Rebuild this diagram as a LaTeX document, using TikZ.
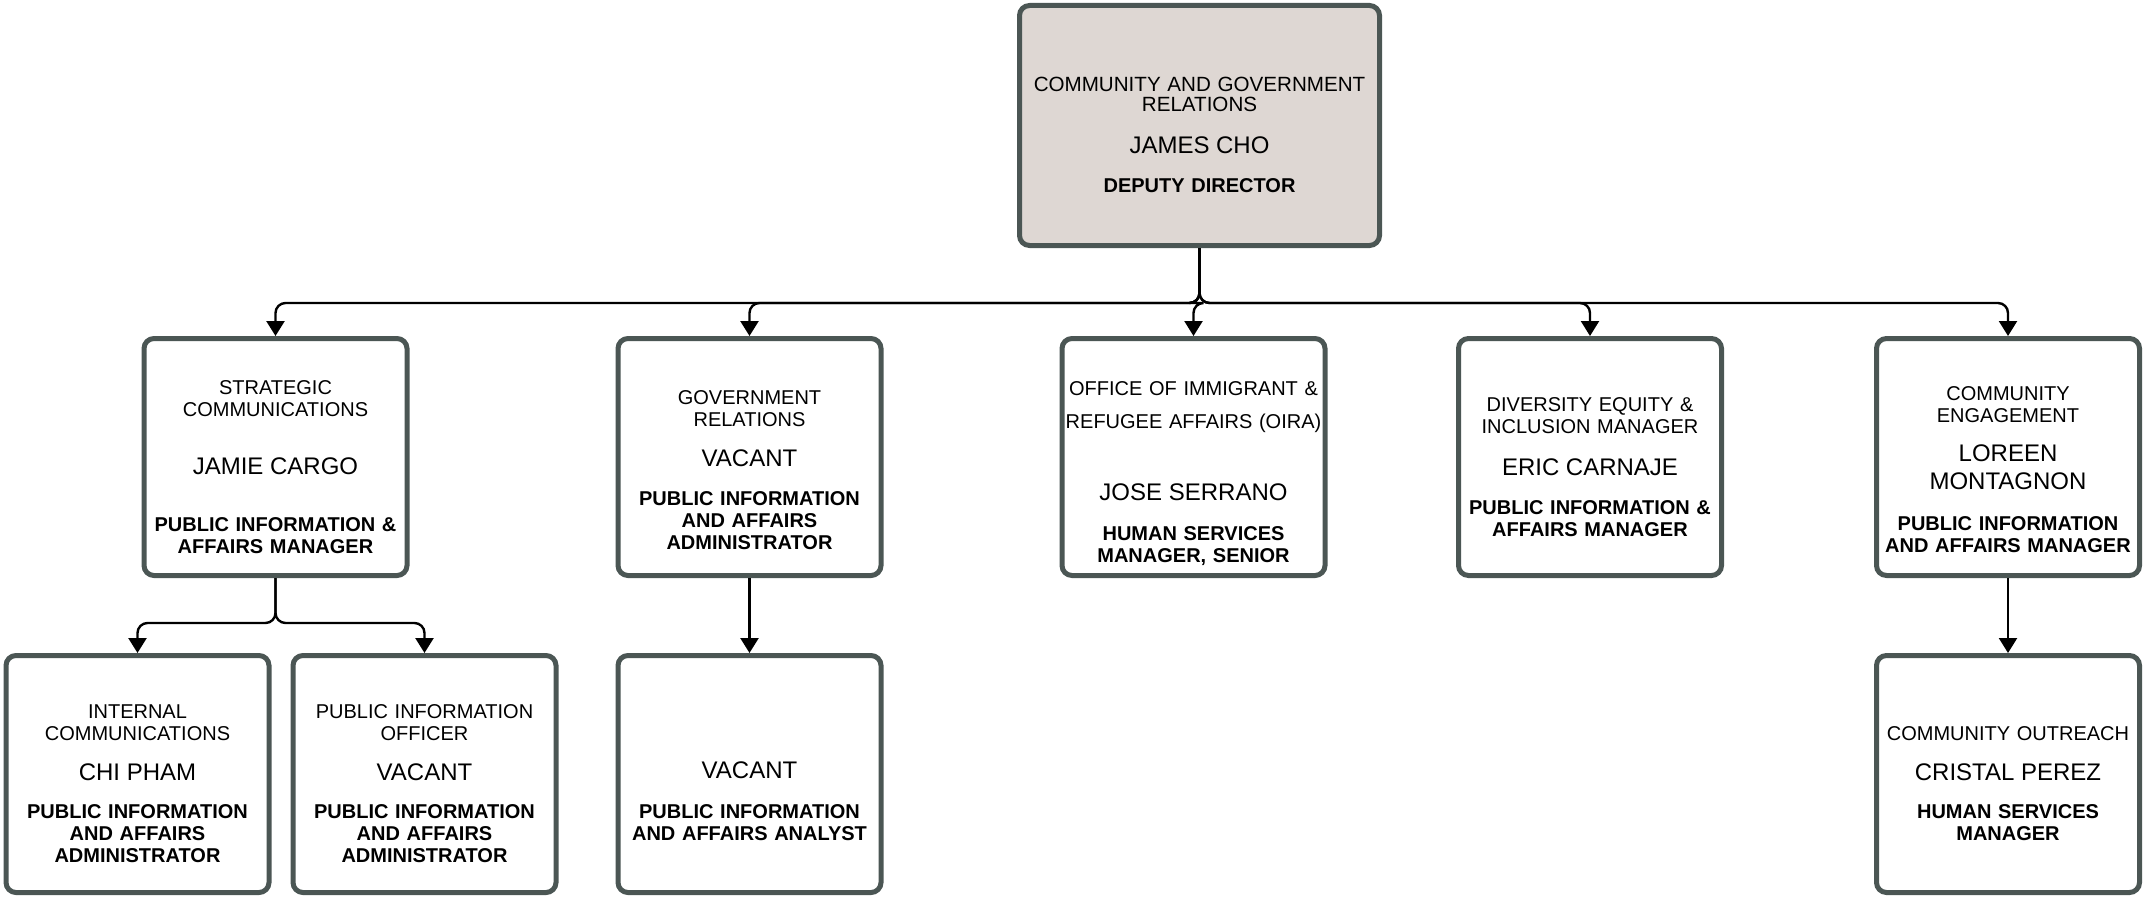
\documentclass[tikz,border=0pt]{standalone}
\usepackage{fontspec}
\setmainfont{Liberation Sans}
\usepackage{tikz}
\usetikzlibrary{arrows.meta}

\definecolor{boxline}{HTML}{4B5654}
\definecolor{headfill}{HTML}{DED7D3}

% text blocks inside a box
\newcommand{\dept}[2][11pt]{{\fontsize{10}{#1}\selectfont #2\par}}
\newcommand{\who}[2][6pt]{\vspace{#1}{\fontsize{12}{14}\selectfont #2\par}}
\newcommand{\role}[2][8.5pt]{\vspace{#1}{\bfseries\fontsize{10}{11}\selectfont #2\par}}

\begin{document}
\begin{tikzpicture}[x=0.5pt, y=-0.5pt,
        box_style/.style={rectangle, rounded corners=5pt, draw=boxline, line width=2.5pt, fill=white,
            minimum width=131.5pt, minimum height=118.5pt, text width=131pt, align=center,
            inner sep=0pt, execute at begin node={\rule{0pt}{16.7pt}}},
        head_style/.style={box_style, fill=headfill, minimum width=180pt, minimum height=120pt, text width=175pt},
        edge_style/.style={draw=black, line width=1.2pt, rounded corners=5pt, -{Triangle[width=9pt,length=7.5pt]}}]

        \useasboundingbox (0,0) rectangle (2143,899);

        \node [head_style](top) at (1199.5,125.5) {\dept[10pt]{\fontsize{10.3}{10pt}\selectfont COMMUNITY AND GOVERNMENT\\RELATIONS}\who[7pt]{JAMES CHO}\role{DEPUTY DIRECTOR}};

        \node [box_style](sc) at (275.5,457) {\dept{STRATEGIC\\COMMUNICATIONS}\who[15pt]{JAMIE CARGO}\role[17.5pt]{PUBLIC INFORMATION \&\\AFFAIRS MANAGER}};

        \node [box_style](gr) at (749.5,457) {\rule{0pt}{19.7pt}\dept{GOVERNMENT\\RELATIONS}\who{VACANT}\role{PUBLIC INFORMATION\\AND AFFAIRS\\ADMINISTRATOR}};

        \node [box_style](oira) at (1193.5,457) {\rule{0pt}{23.7pt}\dept[16.5pt]{OFFICE OF IMMIGRANT \&\\REFUGEE AFFAIRS (OIRA)}\who[22pt]{JOSE SERRANO}\role[9pt]{HUMAN SERVICES\\MANAGER, SENIOR}};

        \node [box_style](dei) at (1590,457) {\dept{DIVERSITY EQUITY \&\\INCLUSION MANAGER}\who[7pt]{ERIC CARNAJE}\role{PUBLIC INFORMATION \&\\AFFAIRS MANAGER}};

        \node [box_style](ce) at (2008,457) {\rule{0pt}{19.7pt}\dept{COMMUNITY\\ENGAGEMENT}\who[5.5pt]{LOREEN\\MONTAGNON}\role[9.5pt]{PUBLIC INFORMATION\\AND AFFAIRS MANAGER}};

        \node [box_style](ic) at (137.5,774) {\dept{INTERNAL\\COMMUNICATIONS}\who{CHI PHAM}\role[8pt]{PUBLIC INFORMATION\\AND AFFAIRS\\ADMINISTRATOR}};

        \node [box_style](pio) at (424.5,774) {\dept{PUBLIC INFORMATION\\OFFICER}\who{VACANT}\role[8pt]{PUBLIC INFORMATION\\AND AFFAIRS\\ADMINISTRATOR}};

        \node [box_style](gra) at (749.5,774) {\who[0pt]{\rule{0pt}{35.6pt}VACANT}\role[9pt]{PUBLIC INFORMATION\\AND AFFAIRS ANALYST}};

        \node [box_style](co) at (2008,774) {\dept{COMMUNITY OUTREACH}\who{CRISTAL PEREZ}\role[8pt]{HUMAN SERVICES\\MANAGER}};

        \draw [edge_style] (top.south) -- ++(0,55) -| (sc.north);

        \draw [edge_style] (top.south) -- ++(0,55) -| (gr.north);

        \draw [edge_style] (top.south) -- ++(0,55) -| (oira.north);

        \draw [edge_style] (top.south) -- ++(0,55) -| (dei.north);

        \draw [edge_style] (top.south) -- ++(0,55) -| (ce.north);

        \draw [edge_style] (sc.south) -- ++(0,45) -| (ic.north);

        \draw [edge_style] (sc.south) -- ++(0,45) -| (pio.north);

        \draw [edge_style] (gr.south) -- (gra.north);

        \draw [edge_style] (ce.south) -- (co.north);

        \end{tikzpicture}
\end{document}
